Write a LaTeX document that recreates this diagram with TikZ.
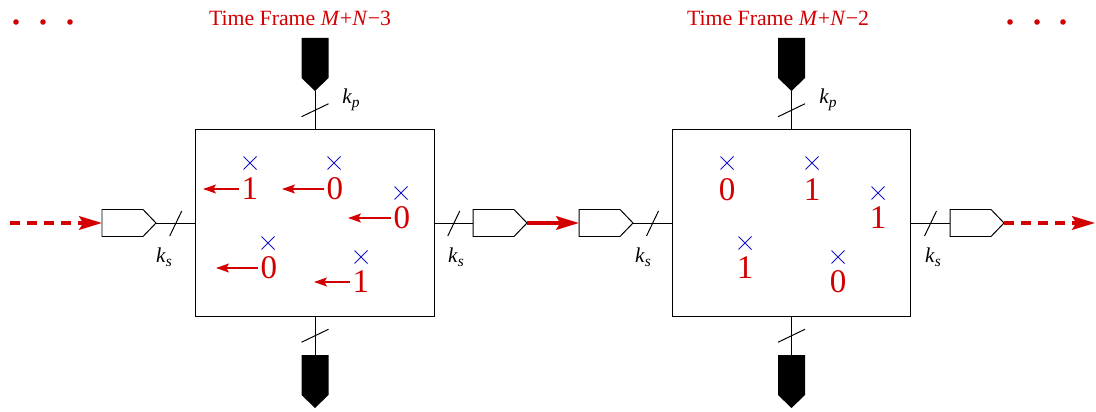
\documentclass[tikz,border=0pt]{standalone}
\usepackage{fontspec}
\setmainfont{Liberation Serif}
\usetikzlibrary{arrows.meta}
\definecolor{dred}{RGB}{210,0,0}
\definecolor{dblue}{RGB}{20,20,210}
\newcommand{\klab}[1]{\textit{k}\raisebox{-0.4ex}{\fontsize{11}{11}\selectfont\textit{#1}}}
\tikzset{
  blk/.style={draw=black, line width=0.7pt},
  framebox/.style={draw=black, line width=0.7pt, minimum width=5.95cm, minimum height=4.65cm, inner sep=0pt},
  lbl/.style={font=\fontsize{15}{15}\selectfont, inner sep=0pt},
  titletext/.style={text=dred, font=\fontsize{15.5}{16}\selectfont, inner sep=0pt},
  digit/.style={text=dred, font=\fontsize{23.5}{24}\selectfont, inner sep=0pt},
  reddot/.style={circle, fill=dred, minimum size=0.14cm, inner sep=0pt},
  redarr/.style={draw=dred, line width=1.4pt, -{Stealth[length=0.32cm,width=0.22cm,inset=0.06cm]}},
  bigarr/.style={draw=dred, line width=2.6pt, -{Stealth[length=0.57cm,width=0.34cm,inset=0.1cm]}},
  dasharr/.style={bigarr, dash pattern=on 0.25cm off 0.175cm},
  pentE/.pic={\draw[blk, fill=white] (-27,-13.5) -- (14,-13.5) -- (27,0) -- (14,13.5) -- (-27,13.5) -- cycle;
              \coordinate (-in) at (-27,0); \coordinate (-out) at (27,0);},
  pentD/.pic={\fill[black] (-13.5,-26.5) -- (13.5,-26.5) -- (13.5,13.5) -- (0,26.5) -- (-13.5,13.5) -- cycle;
              \coordinate (-in) at (0,-26.5); \coordinate (-out) at (0,26.5);},
  tickh/.pic={\draw[blk] (-6,13) -- (6,-12);},
  tickv/.pic={\draw[blk] (-13.5,6.5) -- (13.5,-6.5);},
  xcross/.pic={\draw[draw=dblue, line width=0.6pt] (-6.5,-6.5) -- (6.5,6.5) (-6.5,6.5) -- (6.5,-6.5);}
}
\begin{document}
\begin{tikzpicture}[x=0.025cm,y=-0.025cm]
\useasboundingbox (0,0) rectangle (1096,412);

% dots
\node[reddot] (dl1) at (16,22) {};
\node[reddot] (dl2) at (43,22) {};
\node[reddot] (dl3) at (70,22) {};
\node[reddot] (dr1) at (1010,22) {};
\node[reddot] (dr2) at (1037,22) {};
\node[reddot] (dr3) at (1063,22) {};

% titles
\node[titletext] (tf1) at (300,18) {Time Frame \textit{M}+\textit{N}−3};
\node[titletext] (tf2) at (778,18) {Time Frame \textit{M}+\textit{N}−2};

% boxes
\node[framebox] (boxL) at (315,223) {};
\node[framebox] (boxR) at (791.5,223) {};

% pentagons
\pic (pTL) at (315,64.5) {pentD};
\pic (pBL) at (315,381.5) {pentD};
\pic (pTR) at (791.5,64.5) {pentD};
\pic (pBR) at (791.5,381.5) {pentD};
\pic (pinL) at (129,223) {pentE};
\pic (pM1) at (500,223) {pentE};
\pic (pM2) at (606,223) {pentE};
\pic (pR) at (977,223) {pentE};

% black connectors with ticks
\draw[blk] (pinL-out) -- coordinate[pos=.5] (t1) (boxL.west);
\pic at (t1) {tickh};
\draw[blk] (boxL.east) -- coordinate[pos=.5] (t2) (pM1-in);
\pic at (t2) {tickh};
\draw[blk] (pM2-out) -- coordinate[pos=.5] (t3) (boxR.west);
\pic at (t3) {tickh};
\draw[blk] (boxR.east) -- coordinate[pos=.5] (t4) (pR-in);
\pic at (t4) {tickh};
\draw[blk] (pTL-out) -- coordinate[pos=.5] (t5) (boxL.north);
\pic at (t5) {tickv};
\draw[blk] (boxL.south) -- coordinate[pos=.5] (t6) (pBL-in);
\pic at (t6) {tickv};
\draw[blk] (pTR-out) -- coordinate[pos=.5] (t7) (boxR.north);
\pic at (t7) {tickv};
\draw[blk] (boxR.south) -- coordinate[pos=.5] (t8) (pBR-in);
\pic at (t8) {tickv};

% labels
\node[lbl] (ks1) at (164,257) {\klab{s}};
\node[lbl] (ks2) at (456,257) {\klab{s}};
\node[lbl] (ks3) at (643,257) {\klab{s}};
\node[lbl] (ks4) at (933,257) {\klab{s}};
\node[lbl] (kp1) at (351,100) {\klab{p}};
\node[lbl] (kp2) at (828,100) {\klab{p}};

% red flow arrows
\coordinate (startL) at (10,223);
\coordinate (endR) at (1095,223);
\draw[dasharr] (startL) -- (pinL-in);
\draw[bigarr] (pM1-out) -- (pM2-in);
\draw[dasharr] (pR-out) -- (endR);

% left box contents
\pic at (250,163) {xcross};
\pic at (334,163) {xcross};
\pic at (401,193) {xcross};
\pic at (268,243) {xcross};
\pic at (361,257) {xcross};
\node[digit] (a1) at (250,189) {1};
\node[digit] (a2) at (335,189) {0};
\node[digit] (a3) at (402,218) {0};
\node[digit] (a4) at (269,268) {0};
\node[digit] (a5) at (361,282) {1};
\coordinate (e1) at (203,189);
\coordinate (e2) at (282,189);
\coordinate (e3) at (348,218);
\coordinate (e4) at (216,268);
\coordinate (e5) at (314,282);
\draw[redarr] ([xshift=-0.06cm]a1.west) -- (e1);
\draw[redarr] ([xshift=-0.06cm]a2.west) -- (e2);
\draw[redarr] ([xshift=-0.06cm]a3.west) -- (e3);
\draw[redarr] ([xshift=-0.06cm]a4.west) -- (e4);
\draw[redarr] ([xshift=-0.06cm]a5.west) -- (e5);

% right box contents
\pic at (727,163) {xcross};
\pic at (812,163) {xcross};
\pic at (878,193) {xcross};
\pic at (745,243) {xcross};
\pic at (838,257) {xcross};
\node[digit] (b1) at (727,190) {0};
\node[digit] (b2) at (812,190) {1};
\node[digit] (b3) at (878,218) {1};
\node[digit] (b4) at (745,268) {1};
\node[digit] (b5) at (838,282) {0};
\end{tikzpicture}
\end{document}
